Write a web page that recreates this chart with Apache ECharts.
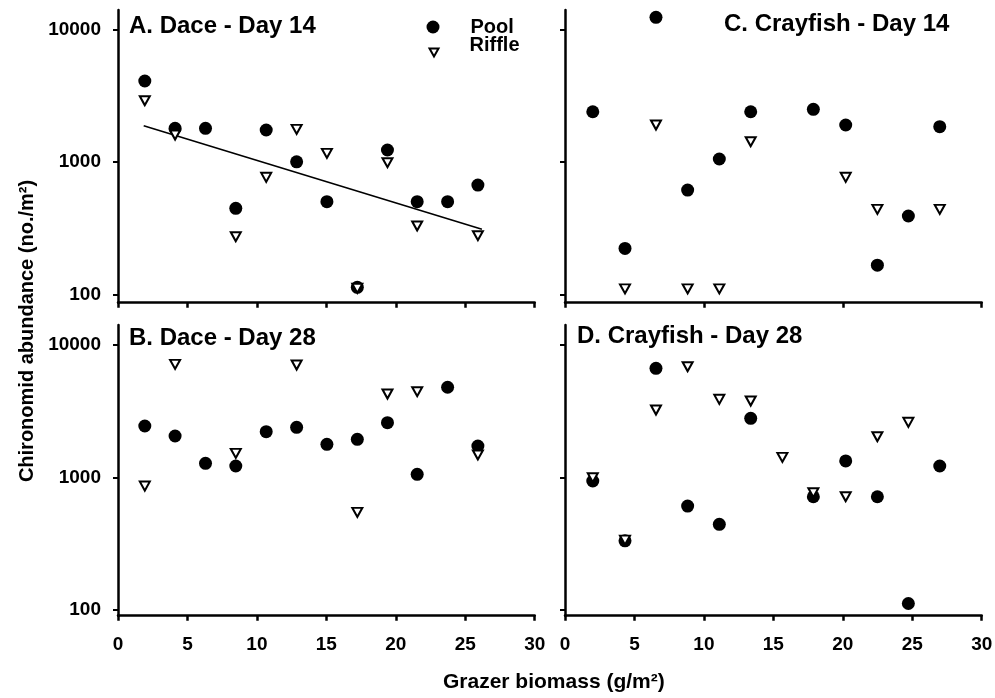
<!DOCTYPE html>
<html>
<head>
<meta charset="utf-8">
<script src="https://cdn.jsdelivr.net/npm/echarts@6/dist/echarts.min.js"></script>
<style>
html,body{margin:0;padding:0;background:#fff;}
#chart{width:995px;height:698px;}
</style>
</head>
<body>
<div id="chart"></div>
<script>
// ---------------- DATA ----------------
const daceX = [1.93, 4.11, 6.30, 8.48, 10.67, 12.86, 15.04, 17.23, 19.40, 21.54, 23.73, 25.91];
const crayX = [2.00, 4.32, 6.55, 8.83, 11.11, 13.37, 15.65, 17.88, 20.21, 22.49, 24.72, 26.98];

const dacePoolD14   = [4074, 1790, 1790, 446, 1738, 1000, 500, 113, 1228, 500, 500, 668];
const daceRiffleD14 = [2891, 1593, null, 272, 764, 1758, 1159, 111, 985, 328, null, 277];

const dacePoolD28   = [2447, 2057, 1280, 1222, 2217, 2392, 1780, 1941, 2592, 1057, 4797, 1729];
const daceRiffleD28 = [862, 7146, null, 1521, null, 7063, null, 546, 4267, 4443, null, 1479];

const crayPoolD14   = [2388, 222, 12320, 612, 1050, 2388, null, 2490, 1896, 166, 390, 1841];
const crayRiffleD14 = [null, 110, 1896, 110, 110, 1418, null, null, 764, 438, null, 438];

const crayPoolD28   = [941, 333, 6670, 609, 443, 2798, null, 716, 1333, 716, 112, 1222];
const crayRiffleD28 = [997, 337, 3231, 6855, 3892, 3778, 1419, 767, 716, 2031, 2610, null];

// regression line, panel A (end points)
const trendX = [1.85, 26.2];
const trendY = [1873, 310];

const xTicks = [0, 30];           // x axis range
const yTickValues = [100, 10000]; // labelled decades range

const panelTitles = ['A. Dace - Day 14', 'B. Dace - Day 28', 'C. Crayfish - Day 14', 'D. Crayfish - Day 28'];
const seriesNames = ['Pool', 'Riffle'];
const yAxisTitle = 'Chironomid abundance (no./m\u00B2)';
const xAxisTitle = 'Grazer biomass (g/m\u00B2)';

// ---------------- LAYOUT ----------------
const FONT = 'Liberation Sans, Arial, sans-serif';
const W = 416.7;
const panels = [
  {x: daceX, pool: dacePoolD14, riffle: daceRiffleD14, left: 118, top: 10,  h: 292.7, ymin: 86.45, ymax: 13990, tickTop: 29.3, xInt: 5,  xLab: false, yLab: true,
   title: {left: 129, top: 14}},
  {x: daceX, pool: dacePoolD28, riffle: daceRiffleD28, left: 118, top: 325, h: 290.7, ymin: 90.6, ymax: 14157, tickTop: 345, xInt: 5,  xLab: true,  yLab: true,
   title: {left: 129, top: 326.5}},
  {x: crayX, pool: crayPoolD14, riffle: crayRiffleD14, left: 565, top: 10,  h: 292.7, ymin: 86.45, ymax: 13990, tickTop: 29.3, xInt: 10, xLab: false, yLab: false,
   title: {left: 724, top: 12}},
  {x: crayX, pool: crayPoolD28, riffle: crayRiffleD28, left: 565, top: 325, h: 290.7, ymin: 90.6, ymax: 14157, tickTop: 345, xInt: 5,  xLab: true,  yLab: false,
   title: {left: 577, top: 324}}
];

function pairs(xs, ys) {
  const out = [];
  xs.forEach((x, i) => { if (ys[i] != null) out.push([x, ys[i]]); });
  return out;
}

const grids = [], xAxes = [], yAxes = [], series = [], titles = [];
const BLACK = '#000';

panels.forEach((p, i) => {
  const gMain = grids.length;
  grids.push({left: p.left, top: p.top, width: W, height: p.h, outerBoundsMode: 'none', containLabel: false});
  const gTick = grids.length;
  grids.push({left: p.left, top: p.tickTop, width: W, height: 265, outerBoundsMode: 'none', containLabel: false});

  xAxes.push({
    gridIndex: gMain, type: 'value', min: xTicks[0], max: xTicks[1], interval: p.xInt,
    axisLine: {show: true, onZero: false, lineStyle: {color: BLACK, width: 2.5}},
    axisTick: {show: true, inside: false, length: 5, lineStyle: {color: BLACK, width: 2.5}},
    axisLabel: {show: p.xLab, color: BLACK, fontFamily: FONT, fontSize: 19, fontWeight: 'bold', margin: 20},
    splitLine: {show: false}
  });
  yAxes.push({
    gridIndex: gMain, type: 'log', logBase: 10, min: p.ymin, max: p.ymax,
    axisLine: {show: true, onZero: false, lineStyle: {color: BLACK, width: 2.5}},
    axisTick: {show: false}, axisLabel: {show: false}, splitLine: {show: false}, minorTick: {show: false}
  });
  // overlay axes for decade ticks
  xAxes.push({gridIndex: gTick, type: 'value', min: xTicks[0], max: xTicks[1], show: false});
  yAxes.push({
    gridIndex: gTick, type: 'log', logBase: 10, min: yTickValues[0], max: yTickValues[1],
    axisLine: {show: false},
    axisTick: {show: true, inside: false, length: 5, lineStyle: {color: BLACK, width: 2}},
    axisLabel: {show: p.yLab, color: BLACK, fontFamily: FONT, fontSize: 19, fontWeight: 'bold', margin: 17,
                formatter: v => String(Math.round(v))},
    splitLine: {show: false}
  });

  const axIdx = xAxes.length - 2;
  series.push({
    name: seriesNames[0], type: 'scatter', xAxisIndex: axIdx, yAxisIndex: axIdx,
    data: pairs(p.x, p.pool), symbol: 'circle', symbolSize: 13, clip: false,
    itemStyle: {color: BLACK, opacity: 1}, emphasis: {disabled: true}, z: 3
  });
  series.push({
    name: seriesNames[1], type: 'scatter', xAxisIndex: axIdx, yAxisIndex: axIdx,
    data: pairs(p.x, p.riffle), symbol: 'triangle', symbolRotate: 180, symbolSize: [10, 9], clip: false,
    itemStyle: {color: '#fff', borderColor: BLACK, borderWidth: 2, opacity: 1}, emphasis: {disabled: true}, z: 4
  });
  if (i === 0) {
    series.push({
      type: 'line', xAxisIndex: axIdx, yAxisIndex: axIdx,
      data: pairs(trendX, trendY), symbol: 'none', silent: true,
      lineStyle: {color: BLACK, width: 1.6}, z: 2
    });
  }
  titles.push({
    text: panelTitles[i], left: p.title.left, top: p.title.top, padding: 0,
    textStyle: {color: BLACK, fontFamily: FONT, fontSize: 24, fontWeight: 'bold'}
  });
});

const option = {
  backgroundColor: '#fff',
  animation: false,
  title: titles,
  grid: grids,
  xAxis: xAxes,
  yAxis: yAxes,
  legend: [
    {data: [{name: seriesNames[0], icon: 'circle'}], left: 426.5, top: 17, orient: 'vertical', padding: 0,
     itemWidth: 13, itemHeight: 13, selectedMode: false,
     itemStyle: {color: BLACK, borderWidth: 0},
     textStyle: {color: BLACK, fontFamily: FONT, fontSize: 20, fontWeight: 'bold', padding: [0, 0, 0, 26]}},
    {data: [{name: seriesNames[1], icon: 'path://M4.5,-14L4.5,-14M0,0L9,0L4.5,8Z'}], left: 428.5, top: 33.5, orient: 'vertical', padding: 0,
     itemWidth: 9, itemHeight: 22, selectedMode: false, symbolKeepAspect: true,
     itemStyle: {color: '#fff', borderColor: BLACK, borderWidth: 2},
     textStyle: {color: BLACK, fontFamily: FONT, fontSize: 20, fontWeight: 'bold', padding: [0, 0, 0, 26]}}
  ],
  graphic: [
    {type: 'text', x: 27, y: 331, rotation: Math.PI / 2,
     style: {text: yAxisTitle, font: 'bold 20px ' + FONT, fill: BLACK,
             align: 'center', verticalAlign: 'middle', textAlign: 'center', textVerticalAlign: 'middle'}},
    {type: 'text', x: 443, y: 682,
     style: {text: xAxisTitle, font: 'bold 21px ' + FONT, fill: BLACK,
             align: 'left', verticalAlign: 'middle', textAlign: 'left', textVerticalAlign: 'middle'}}
  ],
  series: series
};

const chart = echarts.init(document.getElementById('chart'), null, {renderer: 'canvas'});
chart.setOption(option);
</script>
</body>
</html>
